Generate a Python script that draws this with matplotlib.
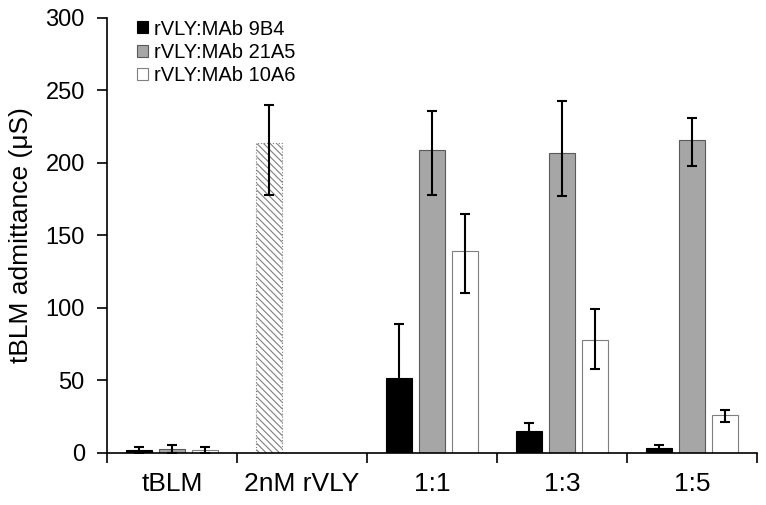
import numpy as np
import matplotlib
matplotlib.use('Agg')
import matplotlib.pyplot as plt

plt.rcParams['font.family'] = ['Liberation Sans', 'DejaVu Sans']
plt.rcParams['hatch.color'] = '#7f7f7f'
plt.rcParams['hatch.linewidth'] = 0.8

categories = ['tBLM', '2nM rVLY', '1:1', '1:3', '1:5']

# rVLY alone (hatched bar, 2nM rVLY group)
rvly_value = 214
rvly_err_low = 36
rvly_err_up = 26

# antibody series (NaN = no bar)
mab_9b4 = [2.0, np.nan, 52, 15, 3.5]
mab_9b4_low = [1.8, np.nan, 37, 6, 2]
mab_9b4_up = [1.8, np.nan, 37, 6, 2]

mab_21a5 = [2.5, np.nan, 209, 207, 216]
mab_21a5_low = [2.5, np.nan, 31, 30, 18]
mab_21a5_up = [3.0, np.nan, 27, 36, 15]

mab_10a6 = [2.0, np.nan, 139, 78, 26]
mab_10a6_low = [1.8, np.nan, 29, 20, 4.4]
mab_10a6_up = [1.8, np.nan, 26, 21, 3.5]

fig = plt.figure(figsize=(7.66, 5.05), dpi=100)
ax = fig.add_axes([0.1397, 0.103, 0.8485, 0.8614])

x = np.arange(len(categories))
w = 0.195
off = 0.254
ekw = dict(ecolor='black', elinewidth=1.5, capsize=3.5, capthick=1.5)

ax.bar(x - off, mab_9b4, w, color='black', edgecolor='black', linewidth=0.8,
       yerr=[mab_9b4_low, mab_9b4_up], error_kw=ekw, label='rVLY:MAb 9B4')
ax.bar(x, mab_21a5, w, color='#a6a6a6', edgecolor='#5a5a5a', linewidth=0.8,
       yerr=[mab_21a5_low, mab_21a5_up], error_kw=ekw, label='rVLY:MAb 21A5')
ax.bar(x + off, mab_10a6, w, color='white', edgecolor='#7f7f7f', linewidth=0.8,
       yerr=[mab_10a6_low, mab_10a6_up], error_kw=ekw, label='rVLY:MAb 10A6')
ax.bar(x[1] - off, rvly_value, w, color='white', edgecolor='#7f7f7f', linewidth=0.8,
       linestyle=':', hatch='\\\\\\\\\\', yerr=[[rvly_err_low], [rvly_err_up]], error_kw=ekw)

ax.set_xlim(-0.5, len(categories) - 0.5)
ax.set_ylim(0, 300)
ax.set_yticks(range(0, 301, 50))
ax.set_xticks(np.arange(-0.5, len(categories), 1.0), minor=False)
ax.set_xticklabels([])
ax.set_xticks(x, minor=True)
ax.set_xticklabels(categories, minor=True, fontsize=19)
ax.tick_params(axis='x', which='minor', length=0, pad=14)
ax.tick_params(axis='x', which='major', length=7, width=1.2, direction='out')
ax.tick_params(axis='y', length=7, width=1.2, direction='out', labelsize=17, pad=9)

for s in ['top', 'right']:
    ax.spines[s].set_visible(False)
for s in ['left', 'bottom']:
    ax.spines[s].set_linewidth(1.2)

ax.set_ylabel('tBLM admittance (μS)', fontsize=19)
ax.yaxis.set_label_coords(-0.114, 0.5)

ax.legend(loc='upper left', bbox_to_anchor=(0.034, 1.015), frameon=False, fontsize=14.5,
          handlelength=0.55, handleheight=0.55, handletextpad=0.3, labelspacing=0.22,
          borderaxespad=0)

fig.savefig('out.png', dpi=100)
